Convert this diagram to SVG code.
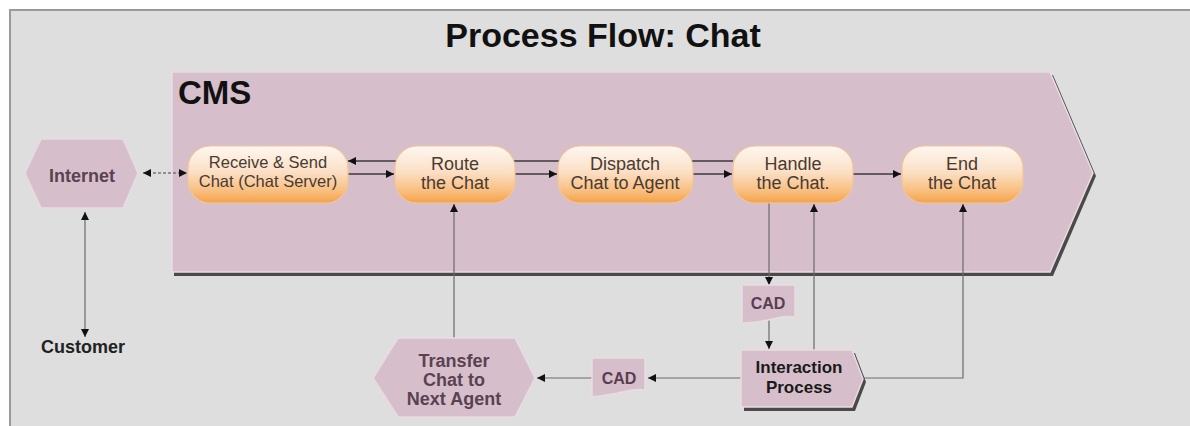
<svg xmlns="http://www.w3.org/2000/svg" width="1190" height="426" viewBox="0 0 1190 426">
  <defs>
    <style>
      .mauve { fill: #d6bfcb; stroke: #e9dbe2; stroke-width: 1.5; }
      .shadow { fill: #4a4a4a; }
      .pill { fill: url(#pillGrad); stroke: #f3c596; stroke-width: 1.2; }
      .ptxt { font-family: "Liberation Sans", Arial, sans-serif; font-size: 18px; fill: #4a3a32; text-anchor: middle; }
      .stxt { font-family: "Liberation Sans", Arial, sans-serif; font-size: 16.5px; fill: #4a3a32; text-anchor: middle; }
      .htxt { font-family: "Liberation Sans", Arial, sans-serif; font-weight: bold; font-size: 18px; fill: #5a4252; text-anchor: middle; }
      .btxt { font-family: "Liberation Sans", Arial, sans-serif; font-weight: bold; font-size: 17px; fill: #1a1a1a; text-anchor: middle; }
      .ctxt { font-family: "Liberation Sans", Arial, sans-serif; font-weight: bold; font-size: 16px; fill: #5a3d52; text-anchor: middle; }
      .link { fill: none; stroke: #3a3a3a; stroke-width: 1.3; }
      .thin { fill: none; stroke: #6a6a6a; stroke-width: 1.2; }
      .dash { fill: none; stroke: #777; stroke-width: 1.3; stroke-dasharray: 3 2; }
    </style>
    <linearGradient id="pillGrad" x1="0" y1="0" x2="0" y2="1">
      <stop offset="0" stop-color="#fef7f1"/>
      <stop offset="0.45" stop-color="#fbe0c6"/>
      <stop offset="0.8" stop-color="#f8bd7c"/>
      <stop offset="1" stop-color="#f4a247"/>
    </linearGradient>
    <marker id="arr" viewBox="0 0 10 10" refX="10" refY="5" markerWidth="9" markerHeight="8" markerUnits="userSpaceOnUse" orient="auto-start-reverse">
      <path d="M0,0 L10,5 L0,10 Z" fill="#111"/>
    </marker>
  </defs>

  <!-- page and panel -->
  <rect x="0" y="0" width="1190" height="426" fill="#ffffff"/>
  <rect x="10" y="10" width="1185" height="420" fill="#dedede" stroke="#9a9a9a" stroke-width="2"/>

  <text x="603" y="47" font-family="Liberation Sans, Arial, sans-serif" font-weight="bold" font-size="34" fill="#111" text-anchor="middle">Process Flow: Chat</text>

  <!-- CMS region -->
  <g id="cms">
    <polygon class="shadow" points="174,75 1053,75 1096,176 1053,276 174,276"/>
    <polygon class="mauve" points="172,72 1050,72 1093,173 1050,272 172,272"/>
    <text x="178" y="104" font-family="Liberation Sans, Arial, sans-serif" font-weight="bold" font-size="33" fill="#111">CMS</text>
  </g>

  <!-- connectors -->
  <g id="connectors">
    <line class="dash" x1="143" y1="173" x2="187" y2="173" marker-start="url(#arr)" marker-end="url(#arr)"/>
    <line class="thin" x1="85" y1="212" x2="85" y2="337" marker-start="url(#arr)" marker-end="url(#arr)"/>
    <line class="link" x1="733" y1="161" x2="348" y2="161" marker-end="url(#arr)"/>
    <line class="link" x1="348" y1="174" x2="394" y2="174" marker-end="url(#arr)"/>
    <line class="link" x1="515" y1="174" x2="557" y2="174" marker-end="url(#arr)"/>
    <line class="link" x1="693" y1="174" x2="732" y2="174" marker-end="url(#arr)"/>
    <line class="link" x1="853" y1="174" x2="901" y2="174" marker-end="url(#arr)"/>
    <line class="thin" x1="454" y1="338" x2="454" y2="204" marker-end="url(#arr)"/>
    <line class="thin" x1="769" y1="203" x2="769" y2="285" marker-end="url(#arr)"/>
    <line class="thin" x1="769" y1="320" x2="769" y2="349" marker-end="url(#arr)"/>
    <line class="thin" x1="814" y1="350" x2="814" y2="204" marker-end="url(#arr)"/>
    <polyline class="thin" points="858,378 963,378 963,204" marker-end="url(#arr)"/>
    <line class="thin" x1="741" y1="378" x2="648" y2="378" marker-end="url(#arr)"/>
    <line class="thin" x1="592" y1="378" x2="537" y2="378" marker-end="url(#arr)"/>
  </g>

  <g id="internet">
    <polygon class="mauve" points="25,173 41,139 123,139 138,173 123,208 41,208"/>
    <text class="htxt" x="82" y="182">Internet</text>
  </g>

  <g id="customer">
    <text x="83" y="353" font-family="Liberation Sans, Arial, sans-serif" font-weight="bold" font-size="18" fill="#222" text-anchor="middle">Customer</text>
  </g>

  <g id="receive">
    <rect class="pill" x="188" y="146" width="160" height="57" rx="22"/>
    <text class="stxt" x="268" y="168">Receive  &amp; Send</text>
    <text class="stxt" x="268" y="187">Chat (Chat Server)</text>
  </g>

  <g id="route">
    <rect class="pill" x="395" y="146" width="120" height="57" rx="22"/>
    <text class="ptxt" x="455" y="170">Route</text>
    <text class="ptxt" x="455" y="189">the Chat</text>
  </g>

  <g id="dispatch">
    <rect class="pill" x="558" y="146" width="135" height="57" rx="22"/>
    <text class="ptxt" x="625" y="170">Dispatch</text>
    <text class="ptxt" x="625" y="189">Chat to Agent</text>
  </g>

  <g id="handle">
    <rect class="pill" x="733" y="146" width="120" height="57" rx="22"/>
    <text class="ptxt" x="793" y="170">Handle</text>
    <text class="ptxt" x="793" y="189">the Chat.</text>
  </g>

  <g id="end">
    <rect class="pill" x="902" y="146" width="121" height="57" rx="22"/>
    <text class="ptxt" x="962" y="170">End</text>
    <text class="ptxt" x="962" y="189">the Chat</text>
  </g>

  <g id="cad-upper">
    <path class="mauve" d="M742,285 H795 V317 C786,315 777,318 768,320 C758,322 750,323 742,323 Z"/>
    <text class="ctxt" x="768" y="309">CAD</text>
  </g>

  <g id="interaction">
    <polygon class="shadow" points="744,353 855,353 866,382 855,411 744,411"/>
    <polygon class="mauve" points="741,350 852,350 863,379 852,407 741,407"/>
    <text class="btxt" x="799" y="373">Interaction</text>
    <text class="btxt" x="799" y="393">Process</text>
  </g>

  <g id="cad-lower">
    <path class="mauve" d="M592,358 H645 V390 C636,388 627,391 618,393 C608,395 600,396 592,397 Z"/>
    <text class="ctxt" x="619" y="384">CAD</text>
  </g>

  <g id="transfer">
    <polygon class="mauve" points="373,378 398,338 515,338 535,378 515,417 398,417"/>
    <text class="htxt" x="454" y="367">Transfer</text>
    <text class="htxt" x="454" y="386">Chat to</text>
    <text class="htxt" x="454" y="405">Next Agent</text>
  </g>
</svg>
